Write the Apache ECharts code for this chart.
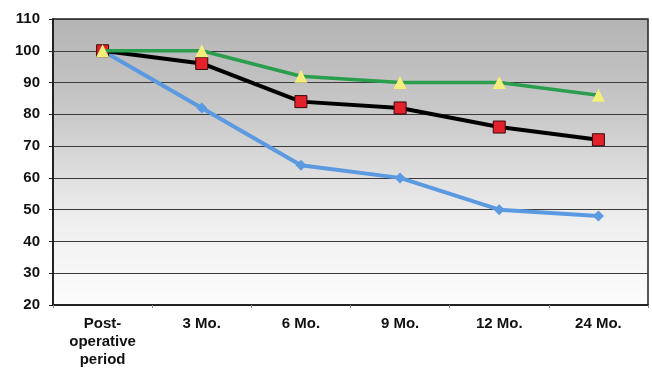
<!DOCTYPE html>
<html><head><meta charset="utf-8">
<script src="https://cdn.jsdelivr.net/npm/echarts@6/dist/echarts.min.js"></script>
<style>html,body{margin:0;padding:0;background:#fff}#c{width:652px;height:369px}</style>
</head><body><div id="c"></div>
<script>
const categories = ['Post-\noperative\nperiod', '3 Mo.', '6 Mo.', '9 Mo.', '12 Mo.', '24 Mo.'];
const greenValues = [100, 100, 92, 90, 90, 86];
const blackValues = [100, 96, 84, 82, 76, 72];
const blueValues = [100, 82, 64, 60, 50, 48];
const yTicks = [20, 30, 40, 50, 60, 70, 80, 90, 100, 110];

const chart = echarts.init(document.getElementById('c'), null, {renderer: 'canvas'});
const font = {fontFamily: 'Liberation Sans, Arial, sans-serif', fontWeight: 'bold', fontSize: 15, color: '#111'};
chart.setOption({
  animation: false,
  grid: {
    left: 53, right: 4, top: 19, bottom: 62, show: true,
    borderColor: '#222', borderWidth: 1.5,
    backgroundColor: new echarts.graphic.LinearGradient(0, 0, 0, 1, [
      {offset: 0, color: '#b4b4b4'}, {offset: 0.35, color: '#cacaca'}, {offset: 0.7, color: '#eeeeee'}, {offset: 1, color: '#fdfdfd'}
    ])
  },
  xAxis: {
    type: 'category', data: categories, boundaryGap: true,
    axisLine: {lineStyle: {color: '#222', width: 2}},
    axisTick: {show: true, length: 3, lineStyle: {color: '#888'}},
    axisLabel: Object.assign({margin: 10, lineHeight: 18}, font)
  },
  yAxis: {
    type: 'value', min: yTicks[0], max: yTicks[yTicks.length - 1], interval: 10,
    axisLine: {show: true, lineStyle: {color: '#222', width: 2}},
    axisTick: {show: true, length: 4, lineStyle: {color: '#222'}},
    splitLine: {lineStyle: {color: '#3a3a3a', width: 1.2}},
    axisLabel: Object.assign({margin: 13}, font)
  },
  series: [
    {type: 'line', data: blueValues, z: 2, lineStyle: {color: '#5b9ae0', width: 4},
     symbol: 'diamond', symbolSize: 11, itemStyle: {color: '#5b9ae0'}},
    {type: 'line', data: blackValues, z: 3, lineStyle: {color: '#000', width: 4},
     symbol: 'rect', symbolSize: 12, itemStyle: {color: '#e3212b', borderColor: '#3a0a0a', borderWidth: 1}},
    {type: 'line', data: greenValues, z: 4, lineStyle: {color: '#2a9e4c', width: 3.5},
     symbol: 'triangle', symbolSize: 13, itemStyle: {color: '#f3ef7a'}}
  ]
});
</script></body></html>
